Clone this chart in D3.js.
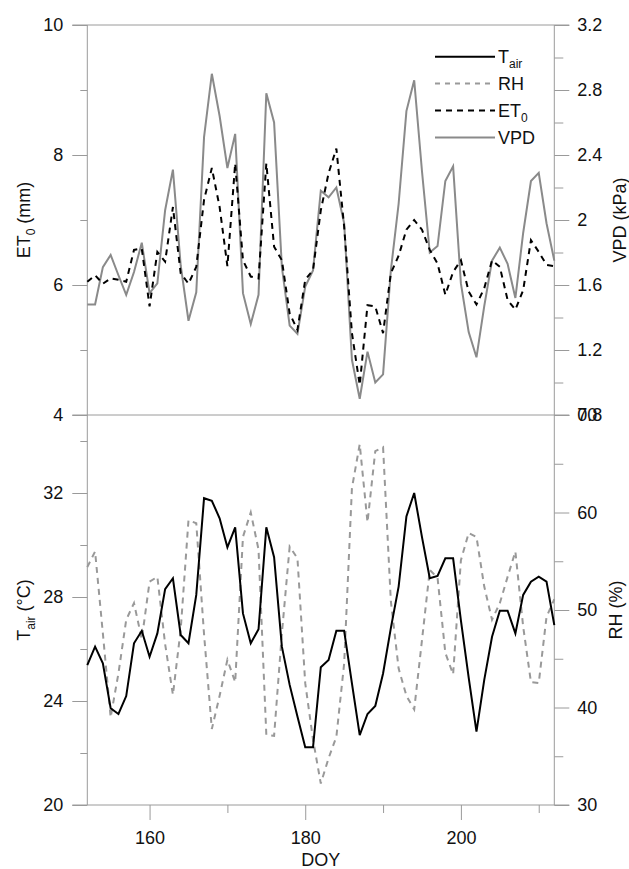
<!DOCTYPE html>
<html>
<head>
<meta charset="utf-8">
<script src="https://cdn.jsdelivr.net/npm/d3@7/dist/d3.min.js"></script>
<style>
  html, body { margin: 0; padding: 0; background: #fff; }
  svg { display: block; }
  text { font-family: "Liberation Sans", Arial, sans-serif; fill: #111; }
</style>
</head>
<body>
<svg id="chart" width="629" height="869"></svg>
<script>
// Day of year
const doy = [152,153,154,155,156,157,158,159,160,161,162,163,164,165,166,167,168,169,170,171,
  172,173,174,175,176,177,178,179,180,181,182,183,184,185,186,187,188,189,190,191,
  192,193,194,195,196,197,198,199,200,201,202,203,204,205,206,207,208,209,210,211,212];

// Reference evapotranspiration (mm)
const et0 = [6.05,6.15,6.02,6.10,6.08,6.05,6.54,6.56,5.67,6.51,6.36,7.20,6.18,6.02,6.28,7.31,7.80,7.20,6.29,7.87,
  6.38,6.13,6.10,7.87,6.59,6.38,5.56,5.31,6.08,6.23,7.15,7.72,8.10,6.90,5.26,4.46,5.69,5.67,5.26,6.18,
  6.45,6.85,7.00,6.85,6.54,6.33,5.85,6.20,6.38,5.90,5.70,5.95,6.38,6.28,5.77,5.62,5.92,6.69,6.51,6.31,6.29];

// Vapour pressure deficit (kPa)
const vpd = [1.48,1.48,1.71,1.785,1.66,1.54,1.68,1.86,1.55,1.61,2.06,2.31,1.72,1.38,1.555,2.51,2.90,2.64,2.32,2.53,
  1.55,1.36,1.54,2.78,2.60,1.71,1.35,1.30,1.59,1.69,2.18,2.14,2.20,1.98,1.14,0.90,1.19,1.00,1.05,1.69,
  2.10,2.67,2.86,2.30,1.80,1.84,2.24,2.33,1.61,1.31,1.155,1.47,1.75,1.83,1.73,1.52,1.92,2.24,2.29,1.98,1.75];

// Air temperature (°C)
const tair = [25.38,26.09,25.45,23.72,23.50,24.19,26.22,26.70,25.70,26.60,28.30,28.72,26.54,26.22,28.08,31.80,31.70,31.03,29.91,30.68,
  27.37,26.22,26.76,30.68,29.53,26.09,24.62,23.40,22.22,22.22,25.30,25.58,26.70,26.70,24.68,22.69,23.50,23.81,25.06,26.80,
  28.40,31.10,32.00,30.30,28.72,28.81,29.49,29.49,27.10,24.90,22.82,24.81,26.47,27.47,27.47,26.60,28.08,28.59,28.78,28.59,26.92];

// Relative humidity (%)
const rh = [54.4,56.0,47.6,39.0,43.5,49.0,50.7,47.0,52.9,53.4,46.5,41.3,48.0,59.2,58.9,47.5,37.8,41.2,44.9,42.6,
  57.5,60.0,56.2,37.2,37.1,47.6,56.5,55.3,42.5,36.7,32.2,34.8,37.0,44.5,62.5,67.0,59.0,66.3,66.7,50.9,
  44.0,41.2,39.8,46.9,54.1,53.3,45.6,43.4,55.1,57.9,57.5,52.4,49.0,50.7,53.4,56.0,48.3,42.6,42.5,49.3,51.1];

// Tick values
const xMajor = [160, 180, 200], xMinor = [170, 190, 210];
const et0Major = [4, 6, 8, 10], et0Minor = [5, 7, 9];
const vpdMajor = [0.8, 1.2, 1.6, 2, 2.4, 2.8, 3.2], vpdMinor = [1.0, 1.4, 1.8, 2.2, 2.6, 3.0];
const tairMajor = [20, 24, 28, 32], tairMinor = [22, 26, 30, 34];
const rhMajor = [30, 40, 50, 60, 70], rhMinor = [35, 45, 55, 65];

const svg = d3.select("#chart");
const AXIS = "#9a9a9a";
const FS = 18;

const x = d3.scaleLinear().domain([152, 212]).range([87.3, 554.3]);
const yEt = d3.scaleLinear().domain([4, 10]).range([415, 25]);
const yVpd = d3.scaleLinear().domain([0.8, 3.2]).range([415, 25]);
const yT = d3.scaleLinear().domain([20, 35]).range([805, 415]);
const yRh = d3.scaleLinear().domain([30, 70]).range([805, 415]);

function styleAxis(g) {
  g.select(".domain").remove();
  g.selectAll(".tick line").attr("stroke", AXIS).attr("stroke-width", 1);
  g.selectAll(".tick text").attr("font-size", FS).attr("fill", "#111")
    .style("font-family", '"Liberation Sans", Arial, sans-serif');
}

function addAxis(axis, tx, ty) {
  svg.append("g").attr("transform", `translate(${tx},${ty})`).call(axis).call(styleAxis);
}

const left = x(152), right = x(212);

// Left axes
addAxis(d3.axisLeft(yEt).tickValues(et0Major).tickSize(15).tickPadding(9).tickFormat(d => String(d)), left, 0);
addAxis(d3.axisLeft(yEt).tickValues(et0Minor).tickSize(7).tickFormat(""), left, 0);
addAxis(d3.axisLeft(yT).tickValues(tairMajor).tickSize(15).tickPadding(9).tickFormat(d => String(d)), left, 0);
addAxis(d3.axisLeft(yT).tickValues(tairMinor).tickSize(7).tickFormat(""), left, 0);

// Right axes
addAxis(d3.axisRight(yVpd).tickValues(vpdMajor).tickSize(15).tickPadding(8).tickFormat(d => String(d)), right, 0);
addAxis(d3.axisRight(yVpd).tickValues(vpdMinor).tickSize(9).tickFormat(""), right, 0);
addAxis(d3.axisRight(yRh).tickValues(rhMajor).tickSize(15).tickPadding(8).tickFormat(d => String(d)), right, 0);
addAxis(d3.axisRight(yRh).tickValues(rhMinor).tickSize(9).tickFormat(""), right, 0);

// Bottom axis
addAxis(d3.axisBottom(x).tickValues(xMajor).tickSize(15).tickPadding(11).tickFormat(d => String(d)), 0, yT(20));
addAxis(d3.axisBottom(x).tickValues(xMinor).tickSize(8).tickFormat(""), 0, yT(20));

// Frame lines: top, panel separator, bottom, and the two verticals
const frame = svg.append("g").attr("stroke", AXIS).attr("stroke-width", 1);
[yEt(10), yEt(4), yT(20)].forEach(yy => {
  frame.append("line").attr("x1", left - 15).attr("x2", right + 15).attr("y1", yy).attr("y2", yy);
});
[left, right].forEach(xx => {
  frame.append("line").attr("x1", xx).attr("x2", xx).attr("y1", yEt(10)).attr("y2", yT(20));
});

// Series lines
function drawLine(values, yScale, color, dash) {
  const line = d3.line().x((d, i) => x(doy[i])).y(d => yScale(d));
  svg.append("path").datum(values)
    .attr("d", line)
    .attr("fill", "none")
    .attr("stroke", color)
    .attr("stroke-width", 2)
    .attr("stroke-linejoin", "miter")
    .attr("stroke-dasharray", dash || null);
}

drawLine(vpd, yVpd, "#8a8a8a");
drawLine(et0, yEt, "#000", "6,5");
drawLine(rh, yRh, "#999999", "6,5");
drawLine(tair, yT, "#000");

// Axis titles
function rotatedTitle(cx, cy, parts) {
  const t = svg.append("text")
    .attr("transform", `translate(${cx},${cy}) rotate(-90)`)
    .attr("text-anchor", "middle")
    .attr("font-size", FS);
  parts.forEach(p => {
    const s = t.append("tspan").text(p.text);
    if (p.sub) s.attr("font-size", 12).attr("dy", 5);
    if (p.after) s.attr("dy", -5);
  });
}
rotatedTitle(30, yEt(7), [{text: "ET"}, {text: "0", sub: true}, {text: " (mm)", after: true}]);
rotatedTitle(30, yT(27.5), [{text: "T"}, {text: "air", sub: true}, {text: " (°C)", after: true}]);
rotatedTitle(626, yVpd(2), [{text: "VPD (kPa)"}]);
rotatedTitle(622, yRh(50), [{text: "RH (%)"}]);

svg.append("text")
  .attr("x", (left + right) / 2).attr("y", 866)
  .attr("text-anchor", "middle").attr("font-size", FS)
  .text("DOY");

// Legend
const legendItems = [
  {label: "T", sub: "air", color: "#000", dash: null},
  {label: "RH", sub: null, color: "#999999", dash: "5,5"},
  {label: "ET", sub: "0", color: "#000", dash: "6,5"},
  {label: "VPD", sub: null, color: "#8a8a8a", dash: null}
];
const legend = svg.append("g").attr("transform", "translate(435,56.7)");
legendItems.forEach((it, i) => {
  const gy = i * 26.9;
  legend.append("line")
    .attr("x1", 0).attr("x2", 60).attr("y1", gy).attr("y2", gy)
    .attr("stroke", it.color).attr("stroke-width", 2)
    .attr("stroke-dasharray", it.dash);
  const t = legend.append("text").attr("x", 63).attr("y", gy).attr("dy", "0.35em")
    .attr("font-size", FS);
  t.append("tspan").text(it.label);
  if (it.sub) t.append("tspan").attr("font-size", 12).attr("dy", 5).text(it.sub);
});
</script>
</body>
</html>
